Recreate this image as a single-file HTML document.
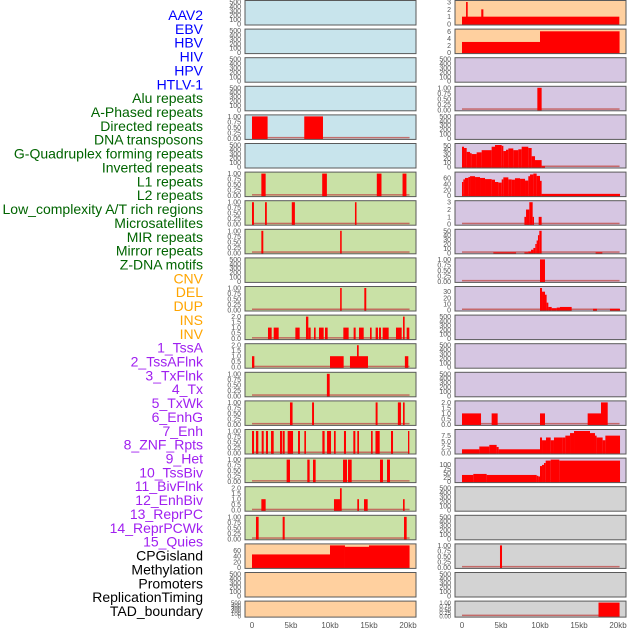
<!DOCTYPE html>
<html><head><meta charset="utf-8"><style>
html,body{margin:0;padding:0;background:#fff;width:630px;height:630px;overflow:hidden}
svg{display:block;font-family:"Liberation Sans",sans-serif}
</style></head><body>
<svg id="chart" width="630" height="630" viewBox="0 0 630 630" xmlns="http://www.w3.org/2000/svg"></svg>
<script>
// ---- track labels ----
const labelNames = ["AAV2","EBV","HBV","HIV","HPV","HTLV-1","Alu repeats","A-Phased repeats","Directed repeats","DNA transposons","G-Quadruplex forming repeats","Inverted repeats","L1 repeats","L2 repeats","Low_complexity A/T rich regions","Microsatellites","MIR repeats","Mirror repeats","Z-DNA motifs","CNV","DEL","DUP","INS","INV","1_TssA","2_TssAFlnk","3_TxFlnk","4_Tx","5_TxWk","6_EnhG","7_Enh","8_ZNF_Rpts","9_Het","10_TssBiv","11_BivFlnk","12_EnhBiv","13_ReprPC","14_ReprPCWk","15_Quies","CPGisland","Methylation","Promoters","ReplicationTiming","TAD_boundary"];
const labelGroups = [0,0,0,0,0,0,1,1,1,1,1,1,1,1,1,1,1,1,1,2,2,2,2,2,3,3,3,3,3,3,3,3,3,3,3,3,3,3,3,4,4,4,4,4];
const groupColors = ["#0000ff","#006400","#ffa500","#a020f0","#000000"];

// ---- tick label sets ----
const ticksEmpty = ["0","100","200","300","400","500"];
const ticksUnit = ["0.00","0.25","0.50","0.75","1.00"];
const ticksTwo = ["0.0","0.5","1.0","1.5","2.0"];
const ticksThree = ["0","1","2","3"];
const ticksSix = ["0","2","4","6"];
const ticksFifty = ["0","10","20","30","40","50"];
const ticksSixty = ["0","20","40","60"];
const ticksThirty = ["0","10","20","30"];
const ticksSeven = ["0.0","2.5","5.0","7.5"];
const ticksHundred = ["0","25","50","75","100"];
const xTickKb = [0,5,10,15,20];
const xTickLabels = ["0","5kb","10kb","15kb","20kb"];

// ---- bar data: [startKb, endKb, value] ----
const barsL4 = [[0,2,1],[6.7,9.1,1]];
const barsL6 = [[1.2,1.75,1],[9.0,9.6,1],[16.0,16.6,1],[19.3,19.8,1]];
const barsL7 = [[0,0.25,1],[1.67,1.9,1],[5.1,5.5,1],[13.2,13.4,1]];
const barsL8 = [[1.2,1.45,1],[11.3,11.5,1]];
const barsL10 = [[11.3,11.5,1],[14.4,14.65,1]];
const barsL11 = [[2.05,2.52,1],[2.78,3.42,1],[5.56,6.11,1],[6.92,7.22,2],[7.22,7.52,1],[7.95,8.16,1],[8.59,9.19,1],[9.36,9.7,1],[11.71,12.39,1],[13.03,13.29,1],[13.72,14.32,1],[15.13,15.34,1],[15.85,16.15,1],[16.28,16.54,1],[16.75,17.52,1],[18.46,19.19,1],[19.36,19.57,2],[19.83,20.17,1]];
const barsL12 = [[0,0.3,1],[10.0,11.75,1],[12.56,14.87,1],[13.46,13.68,2],[19.6,20.04,1]];
const barsL13 = [[9.6,9.96,1]];
const barsL14 = [[4.87,5.2,1],[7.7,7.95,1],[15.85,16.1,1],[18.7,19.1,1],[19.36,19.57,1]];
const barsL15 = [[0,0.26,1],[0.51,0.81,1],[1.24,1.5,1],[1.79,2.05,1],[2.44,2.78,1],[3.59,3.85,1],[3.93,4.19,1],[4.57,5.26,1],[5.9,6.15,1],[6.71,6.92,1],[9.02,9.31,1],[9.62,10.13,1],[10.51,10.73,1],[11.79,12.05,1],[12.99,13.25,1],[13.5,13.72,1],[15.26,15.47,1],[15.83,16.37,1],[17.82,18.08,1],[20.0,20.17,1]];
const barsL16 = [[4.44,4.87,1],[7.09,7.39,1],[7.82,8.16,1],[11.67,12.18,1],[12.31,12.78,1],[16.41,16.79,1],[17.31,17.69,1]];
const barsL17 = [[1.2,1.75,1],[10.51,11.28,1],[11.28,11.5,2],[13.5,13.72,1],[14.36,14.83,1],[19.36,19.57,1]];
const barsL18 = [[0.51,0.85,1],[3.93,4.19,1],[19.49,19.83,1]];
const barsL19 = [[0,10.0,46],[10.0,11.92,78],[11.92,15.0,73],[15.0,20.2,78]];
const barsR0 = [[0,20.17,1],[0.52,0.73,3],[2.47,2.74,2]];
const barsR1 = [[0,10.0,3],[10.0,20.2,6]];
const barsR3 = [[9.66,10.21,1]];
const barsR5 = [[0,0.26,47],[0.26,0.6,44],[0.6,1.03,35],[1.03,1.24,32],[1.24,1.88,30],[1.88,2.52,34],[2.52,3.8,39],[3.8,4.23,47],[4.23,5.09,51],[5.09,5.3,49],[5.3,5.64,37],[5.64,5.94,40],[5.94,6.58,43],[6.58,7.22,39],[7.22,7.65,41],[7.65,8.5,47],[8.5,8.93,44],[8.93,9.36,25],[9.36,10.21,16],[10.21,10.64,2]];
const barsR6 = [[0,0.17,47],[0.17,0.38,56],[0.38,0.81,61],[0.81,1.03,64],[1.03,1.67,67],[1.67,2.31,64],[2.31,2.95,61],[2.95,3.8,57],[3.8,4.23,55],[4.23,4.66,47],[4.66,5.09,45],[5.09,5.3,56],[5.3,5.94,63],[5.94,6.37,56],[6.37,6.79,55],[6.79,7.44,60],[7.44,8.08,58],[8.08,8.5,52],[8.5,8.72,67],[8.72,9.15,73],[9.15,9.57,76],[9.57,10.0,68],[10.0,10.21,51],[10.21,20.26,6]];
const barsR7 = [[8.0,8.21,1],[8.21,8.63,2],[8.63,9.06,3],[9.06,9.23,1],[9.83,10.21,1]];
const barsR8 = [[4.02,6.93,1],[8.0,8.5,1],[8.5,8.85,3],[8.85,9.15,7],[9.15,9.4,11],[9.4,9.57,20],[9.57,9.74,28],[9.74,9.91,40],[9.91,10.21,50],[17.13,17.99,1]];
const barsR9 = [[10.0,10.64,1]];
const barsR10 = [[10.0,10.26,36],[10.26,10.64,30],[10.64,10.85,25],[10.85,11.07,12],[11.07,11.5,5],[11.5,12.14,3],[12.14,12.56,4],[12.56,14.06,5],[16.8,17.3,2],[18.97,20.26,2]];
const barsR14 = [[0,2.44,1],[3.8,4.57,1],[10.0,10.64,1],[16.11,17.82,1],[17.82,18.68,2]];
const barsR15 = [[0,2.22,1.6],[2.22,3.5,2.8],[3.5,4.44,3.5],[4.44,4.7,2.6],[4.7,10.0,1.6],[10.0,10.26,6.7],[10.26,10.77,5.5],[10.77,11.37,6.7],[11.37,11.79,5.5],[11.79,12.9,6.7],[12.9,13.25,6.7],[13.25,13.85,7.5],[13.85,14.36,8.6],[14.36,16.41,9.5],[16.41,17.05,8.6],[17.05,17.26,7.5],[17.26,18.03,6.7],[18.03,18.38,5.5],[18.38,20.26,7.5]];
const barsR16 = [[0,1.45,39],[1.45,3.16,45],[3.16,9.57,39],[9.57,9.79,34],[9.79,10.0,30],[10.0,10.26,91],[10.26,10.51,98],[10.51,10.73,109],[10.73,11.37,123],[11.37,12.48,129],[12.48,20.26,123]];
const barsR19 = [[4.87,5.13,1]];
const barsR21 = [[17.5,20.2,1]];

const BG = {blue:"#c8e4ec",green:"#c9e1a6",peach:"#ffd09f",lav:"#d6c6e2",gray:"#d3d3d3"};

// [bg, ticks, domainMax, bars, baseline]
function spec(bg,ticks,dmax,bars,base){return {bg:bg,ticks:ticks,dmax:dmax,bars:bars,base:base};}
const leftTracks = [
 spec("blue",ticksEmpty,500,[],false),spec("blue",ticksEmpty,500,[],false),spec("blue",ticksEmpty,500,[],false),spec("blue",ticksEmpty,500,[],false),
 spec("blue",ticksUnit,1,barsL4,true),spec("blue",ticksEmpty,500,[],false),
 spec("green",ticksUnit,1,barsL6,true),spec("green",ticksUnit,1,barsL7,true),spec("green",ticksUnit,1,barsL8,true),
 spec("green",ticksEmpty,500,[],false),spec("green",ticksUnit,1,barsL10,true),spec("green",ticksTwo,2,barsL11,true),
 spec("green",ticksTwo,2,barsL12,true),spec("green",ticksUnit,1,barsL13,true),spec("green",ticksUnit,1,barsL14,true),
 spec("green",ticksUnit,1,barsL15,true),spec("green",ticksUnit,1,barsL16,true),spec("green",ticksTwo,2,barsL17,true),
 spec("green",ticksUnit,1,barsL18,true),spec("peach",ticksSixty,78,barsL19,false),spec("peach",ticksEmpty,500,[],false),
 spec("peach",ticksEmpty,500,[],false)];
const rightTracks = [
 spec("peach",ticksThree,3,barsR0,false),spec("peach",ticksSix,6.2,barsR1,false),spec("lav",ticksEmpty,500,[],false),
 spec("lav",ticksUnit,1,barsR3,true),spec("lav",ticksEmpty,500,[],false),spec("lav",ticksFifty,51,barsR5,true),
 spec("lav",ticksSixty,76,barsR6,true),spec("lav",ticksThree,3,barsR7,true),spec("lav",ticksFifty,50,barsR8,true),
 spec("lav",ticksUnit,1,barsR9,true),spec("lav",ticksThirty,36,barsR10,true),spec("lav",ticksEmpty,500,[],false),
 spec("lav",ticksEmpty,500,[],false),spec("lav",ticksEmpty,500,[],false),spec("lav",ticksTwo,2,barsR14,true),
 spec("lav",ticksSeven,9.5,barsR15,true),spec("lav",ticksHundred,129,barsR16,true),spec("gray",ticksEmpty,500,[],false),
 spec("gray",ticksEmpty,500,[],false),spec("gray",ticksUnit,1,barsR19,true),spec("gray",ticksEmpty,500,[],false),
 spec("gray",ticksUnit,1,barsR21,true)];

const NS="http://www.w3.org/2000/svg";
const svg=document.getElementById("chart");
function el(tag,attrs,parent){const e=document.createElementNS(NS,tag);for(const k in attrs)e.setAttribute(k,attrs[k]);(parent||svg).appendChild(e);return e;}

// labels
const labelG=el("g",{});


labelNames.forEach((n,i)=>{
  const t=el("text",{x:203,y:15+i*13.86+5,"text-anchor":"end","font-size":"14",fill:groupColors[labelGroups[i]]},labelG);
  t.textContent=n;
  
  
});

function drawColumn(tracks,x0,x1,side){
  const xs=kb=>x0+7+kb*7.8;
  tracks.forEach((tr,i)=>{
    const last=(i===tracks.length-1);
    const top=0.5+i*28.6, h=last?16:24.5;
    const yb=top+h-1, yt=top+1.5;
    const ys=v=>yb-(v/tr.dmax)*(yb-yt);
    const g=el("g",{});
    
    
    el("rect",{x:x0,y:top,width:x1-x0,height:h,fill:BG[tr.bg]},g);
    if(tr.base){const b=el("rect",{x:xs(0),y:yb-1.5,width:xs(20.2)-xs(0),height:1.5,fill:"#c0504d",opacity:"0.8"},g);
      
      }
    tr.bars.forEach(b=>{
      const r=el("rect",{x:xs(b[0]),y:ys(b[2]),width:Math.max(1,xs(b[1])-xs(b[0])),height:yb-ys(b[2])+1,fill:"#ff0000"},g);
      
      
    });
    el("rect",{x:x0,y:top,width:x1-x0,height:h,fill:"none",stroke:"#5a5a5a","stroke-width":"1"},g);
    const n=tr.ticks.length;
    tr.ticks.forEach((lab,k)=>{
      const v=tr.dmax===500?k*100:(parseFloat(lab));
      const t=el("text",{x:x0-4,y:ys(v)+2.5,"text-anchor":"end","font-size":last?"6":"7",fill:"#555"},g);
      t.textContent=lab;
      
      
    });
  });
  const ax=el("g",{});
  
  
  xTickKb.forEach((k,j)=>{
    const t=el("text",{x:xs(k),y:628,"text-anchor":"middle","font-size":"8",fill:"#555"},ax);
    t.textContent=xTickLabels[j];
    
    
  });
}
drawColumn(leftTracks,245,416,"left");
drawColumn(rightTracks,455,626,"right");
</script>
</body></html>
